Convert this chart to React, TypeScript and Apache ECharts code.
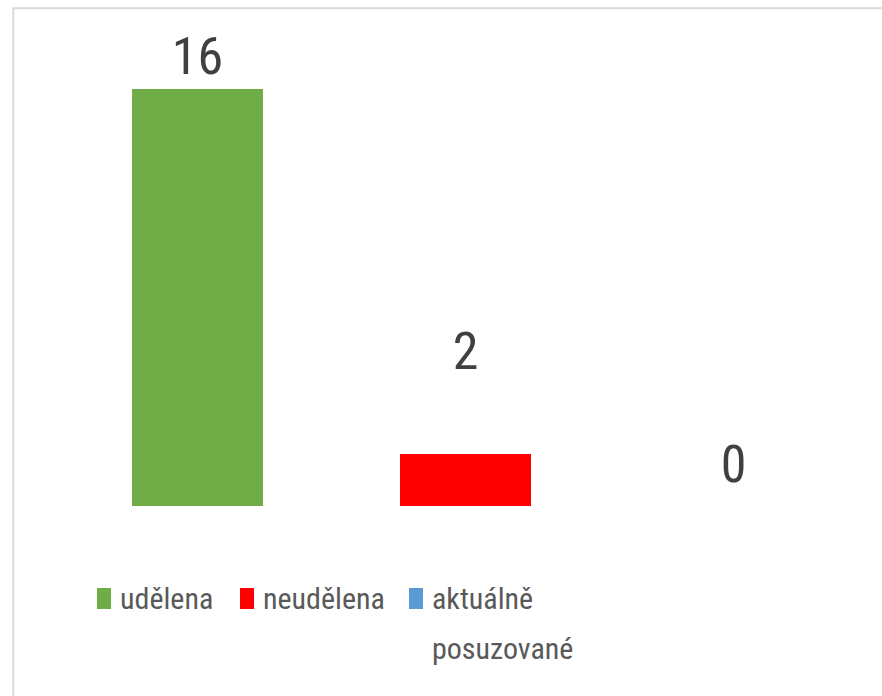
import React, { useEffect, useRef } from "react";
import * as echarts from "echarts";

const categories = ["udělena", "neudělena", "aktuálně posuzované"];
const values = [16, 2, 0];
const colors = ["#70AD47", "#FF0000", "#5B9BD5"];
const labelDistances = [6.5, 76, 16];

const FONT = "'Liberation Sans Narrow', 'Roboto Condensed', 'DejaVu Sans Condensed', sans-serif";
const LEGEND_FS = 30;

export default function App() {
  const ref = useRef<HTMLDivElement>(null);
  useEffect(() => {
    if (!ref.current) return;
    const chart = echarts.init(ref.current, undefined, { renderer: "svg" });
    const legendTextBase = {
      color: "#595959",
      fontFamily: FONT,
      fontSize: LEGEND_FS,
      padding: [0, 0, 0, 4],
    };
    const singleTop = 588 - (LEGEND_FS / 2 - 10.5);
    chart.setOption({
      animation: false,
      backgroundColor: "#ffffff",
      grid: { left: 63.5, right: 14.5, top: 89, bottom: 190 },
      xAxis: {
        type: "category",
        data: categories,
        show: false,
      },
      yAxis: { type: "value", min: 0, max: 16, show: false },
      legend: [
        {
          data: [categories[0]],
          left: 97,
          top: singleTop,
          padding: 0,
          itemWidth: 14,
          itemHeight: 21,
          icon: "rect",
          textStyle: legendTextBase,
        },
        {
          data: [categories[1]],
          left: 240,
          top: singleTop,
          padding: 0,
          itemWidth: 14,
          itemHeight: 21,
          icon: "rect",
          textStyle: legendTextBase,
        },
        {
          data: [categories[2]],
          formatter: (n: string) => n.replace(" ", "\n"),
          left: 409,
          top: 588 - (50 - 35.5),
          padding: 0,
          itemWidth: 14,
          itemHeight: 71,
          icon: "path://M0,0H14V21H0ZM0,71",
          textStyle: { ...legendTextBase, lineHeight: 50 },
        },
      ],
      graphic: [
        {
          type: "rect",
          shape: { x: 13.3, y: 8.3, width: 2000, height: 2000 },
          style: { fill: "none", stroke: "#D9D9D9", lineWidth: 2 },
          silent: true,
          z: -10,
        },
      ],
      series: categories.map((name, i) => ({
        name,
        type: "bar",
        stack: "all",
        barWidth: 131,
        itemStyle: { color: colors[i] },
        data: categories.map((_, j) =>
          j === i
            ? {
                value: values[i],
                label: {
                  show: true,
                  position: "top",
                  distance: labelDistances[i],
                  color: "#404040",
                  fontFamily: FONT,
                  fontSize: 52,
                },
              }
            : null
        ),
      })),
    });
    return () => chart.dispose();
  }, []);
  return (
    <div
      ref={ref}
      style={{ position: "absolute", left: 0, top: 0, width: 882, height: 696 }}
    />
  );
}
